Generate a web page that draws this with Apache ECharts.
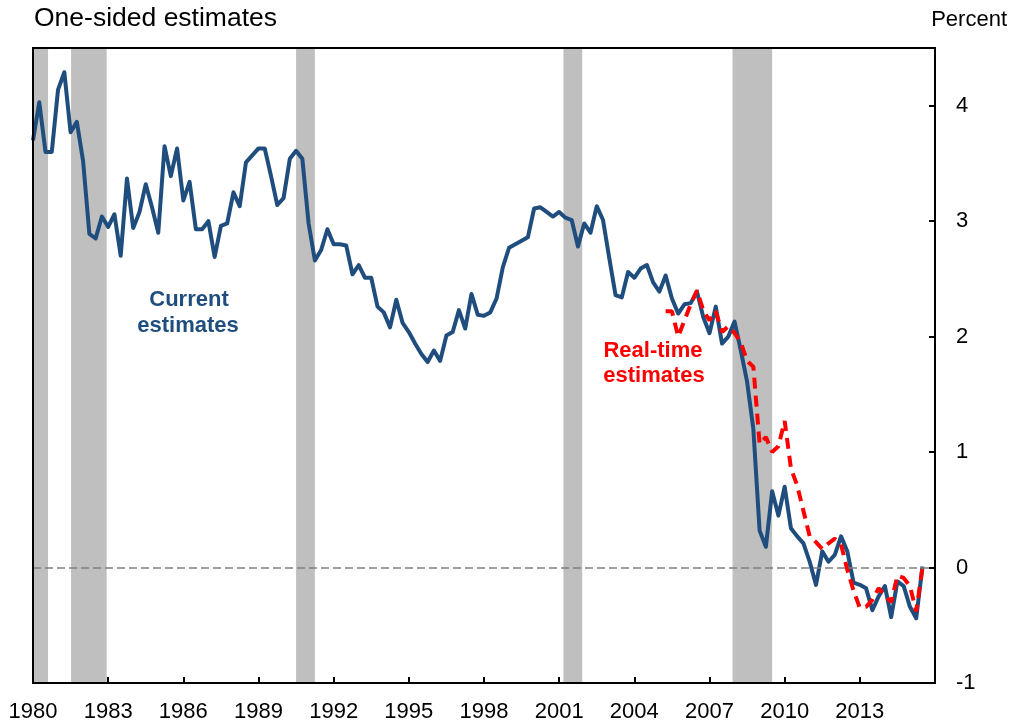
<!DOCTYPE html>
<html>
<head>
<meta charset="utf-8">
<script src="https://cdn.jsdelivr.net/npm/echarts@6/dist/echarts.min.js"></script>
<style>
  html, body { margin: 0; padding: 0; background: #fff; }
  #chart { width: 1013px; height: 728px; }
</style>
</head>
<body>
<div id="chart"></div>
<script>
// Quarterly data, first quarter = 1980 Q1
const firstYear = 1980;
const currentEstimates = [
  3.70, 4.03, 3.60, 3.60, 4.14, 4.29, 3.77, 3.86, 3.52, 2.89,
  2.85, 3.04, 2.95, 3.06, 2.70, 3.37, 2.94, 3.08, 3.32, 3.12,
  2.90, 3.65, 3.39, 3.63, 3.18, 3.34, 2.93, 2.93, 3.00, 2.69,
  2.96, 2.98, 3.25, 3.13, 3.51, 3.57, 3.63, 3.63, 3.39, 3.14,
  3.20, 3.54, 3.61, 3.54, 2.98, 2.66, 2.75, 2.93, 2.80, 2.80,
  2.79, 2.54, 2.62, 2.51, 2.51, 2.26, 2.21, 2.08, 2.32, 2.12,
  2.04, 1.94, 1.85, 1.78, 1.88, 1.79, 2.01, 2.04, 2.23, 2.07,
  2.37, 2.19, 2.18, 2.21, 2.33, 2.60, 2.77, 2.80, 2.83, 2.86,
  3.11, 3.12, 3.08, 3.04, 3.08, 3.03, 3.01, 2.78, 2.98, 2.90,
  3.13, 3.01, 2.68, 2.36, 2.34, 2.56, 2.51, 2.59, 2.62, 2.47,
  2.39, 2.53, 2.33, 2.20, 2.28, 2.29, 2.39, 2.17, 2.03, 2.26,
  1.94, 2.00, 2.13, 1.88, 1.61, 1.20, 0.32, 0.18, 0.66, 0.45,
  0.70, 0.34, 0.27, 0.21, 0.05, -0.15, 0.14, 0.05, 0.11, 0.27,
  0.14, -0.13, -0.15, -0.18, -0.37, -0.25, -0.16, -0.43, -0.12, -0.16,
  -0.34, -0.44, 0.01
];
// Real-time estimates begin at quarter index 101 (2005 Q2)
const realTimeStartIndex = 101;
const realTimeEstimates = [
  2.22, 2.22, 2.00, 2.14, 2.28, 2.40, 2.23, 2.14, 2.22, 2.04,
  2.09, 2.03, 1.95, 1.79, 1.74, 1.07, 1.13, 1.00, 1.05, 1.27,
  0.86, 0.71, 0.49, 0.27, 0.22, 0.16, 0.21, 0.25, 0.20, -0.02,
  -0.20, -0.35, -0.34, -0.28, -0.18, -0.24, -0.30, -0.07, -0.09, -0.16,
  -0.38, 0.00
];
// NBER recessions (fractional years)
const recessionStart = [1980.0, 1981.52, 1990.5, 2001.17, 2007.92];
const recessionEnd   = [1980.6, 1982.94, 1991.25, 2001.92, 2009.5];

const xMin = 1980, xMax = 2016, xStep = 3;
const yMin = -1, yMax = 4.5, yStep = 1;

const FONT = "'Liberation Sans', Arial, sans-serif";
const BLUE = '#1F4E7E';
const RED = '#FF0000';

const quarterX = i => firstYear + i / 4;
const currentData = currentEstimates.map((v, i) => [quarterX(i), v]);
const realTimeData = realTimeEstimates.map((v, i) => [quarterX(realTimeStartIndex + i), v]);
const recessionAreas = recessionStart.map((s, k) => [{ xAxis: s }, { xAxis: recessionEnd[k] }]);

const chart = echarts.init(document.getElementById('chart'), null, { renderer: 'canvas' });
chart.setOption({
  animation: false,
  backgroundColor: '#ffffff',
  textStyle: { fontFamily: FONT },
  grid: {
    left: 33, right: 78, top: 48, bottom: 45,
    show: true, borderColor: '#000', borderWidth: 2, backgroundColor: 'transparent',
    z: 10
  },
  xAxis: {
    type: 'value', min: xMin, max: xMax, interval: xStep,
    axisLine: { show: true, onZero: false, lineStyle: { color: '#000', width: 2 } },
    axisTick: { show: true, inside: true, length: 6, lineStyle: { color: '#000', width: 2 } },
    axisLabel: {
      color: '#000', fontSize: 22, fontFamily: FONT, margin: 18,
      formatter: v => (v >= xMax ? '' : String(v))
    },
    splitLine: { show: false },
    z: 10
  },
  yAxis: {
    type: 'value', position: 'right', min: yMin, max: yMax, interval: yStep,
    axisLine: { show: true, onZero: false, lineStyle: { color: '#000', width: 2 } },
    axisTick: { show: true, inside: true, length: 6, lineStyle: { color: '#000', width: 2 } },
    axisLabel: {
      color: '#000', fontSize: 22, fontFamily: FONT, margin: 21,
      formatter: v => (v > 4.4 ? '' : String(v))
    },
    splitLine: { show: false },
    z: 10
  },
  series: [
    {
      name: 'recessions', type: 'line', data: [], silent: true, z: 1,
      markArea: {
        silent: true,
        itemStyle: { color: '#BFBFBF', opacity: 1 },
        data: recessionAreas
      },
      markLine: {
        silent: true, symbol: 'none', label: { show: false },
        lineStyle: { color: '#808080', width: 1.6, type: [8, 4] },
        data: [{ yAxis: 0 }]
      }
    },
    {
      name: 'Current estimates', type: 'line', data: currentData, z: 3,
      showSymbol: false, symbol: 'none',
      lineStyle: { color: BLUE, width: 4, join: 'round' }
    },
    {
      name: 'Real-time estimates', type: 'line', data: realTimeData, z: 4,
      showSymbol: false, symbol: 'none',
      lineStyle: { color: RED, width: 4, type: [11, 7] }
    }
  ],
  graphic: [
    { type: 'text', x: 34, y: 19, style: { text: 'One-sided estimates', fontSize: 26.5, fontFamily: FONT, fill: '#000', verticalAlign: 'middle' } },
    { type: 'text', x: 1007, y: 20, style: { text: 'Percent', fontSize: 22, fontFamily: FONT, fill: '#000', align: 'right', verticalAlign: 'middle' } },
    { type: 'text', x: 189, y: 300, z: 20, style: { text: 'Current', fontSize: 22, fontWeight: 'bold', fontFamily: FONT, fill: BLUE, align: 'center', verticalAlign: 'middle' } },
    { type: 'text', x: 188, y: 326, z: 20, style: { text: 'estimates', fontSize: 22, fontWeight: 'bold', fontFamily: FONT, fill: BLUE, align: 'center', verticalAlign: 'middle' } },
    { type: 'text', x: 653, y: 351, z: 20, style: { text: 'Real-time', fontSize: 22, fontWeight: 'bold', fontFamily: FONT, fill: RED, align: 'center', verticalAlign: 'middle' } },
    { type: 'text', x: 654, y: 376, z: 20, style: { text: 'estimates', fontSize: 22, fontWeight: 'bold', fontFamily: FONT, fill: RED, align: 'center', verticalAlign: 'middle' } }
  ]
});
</script>
</body>
</html>
